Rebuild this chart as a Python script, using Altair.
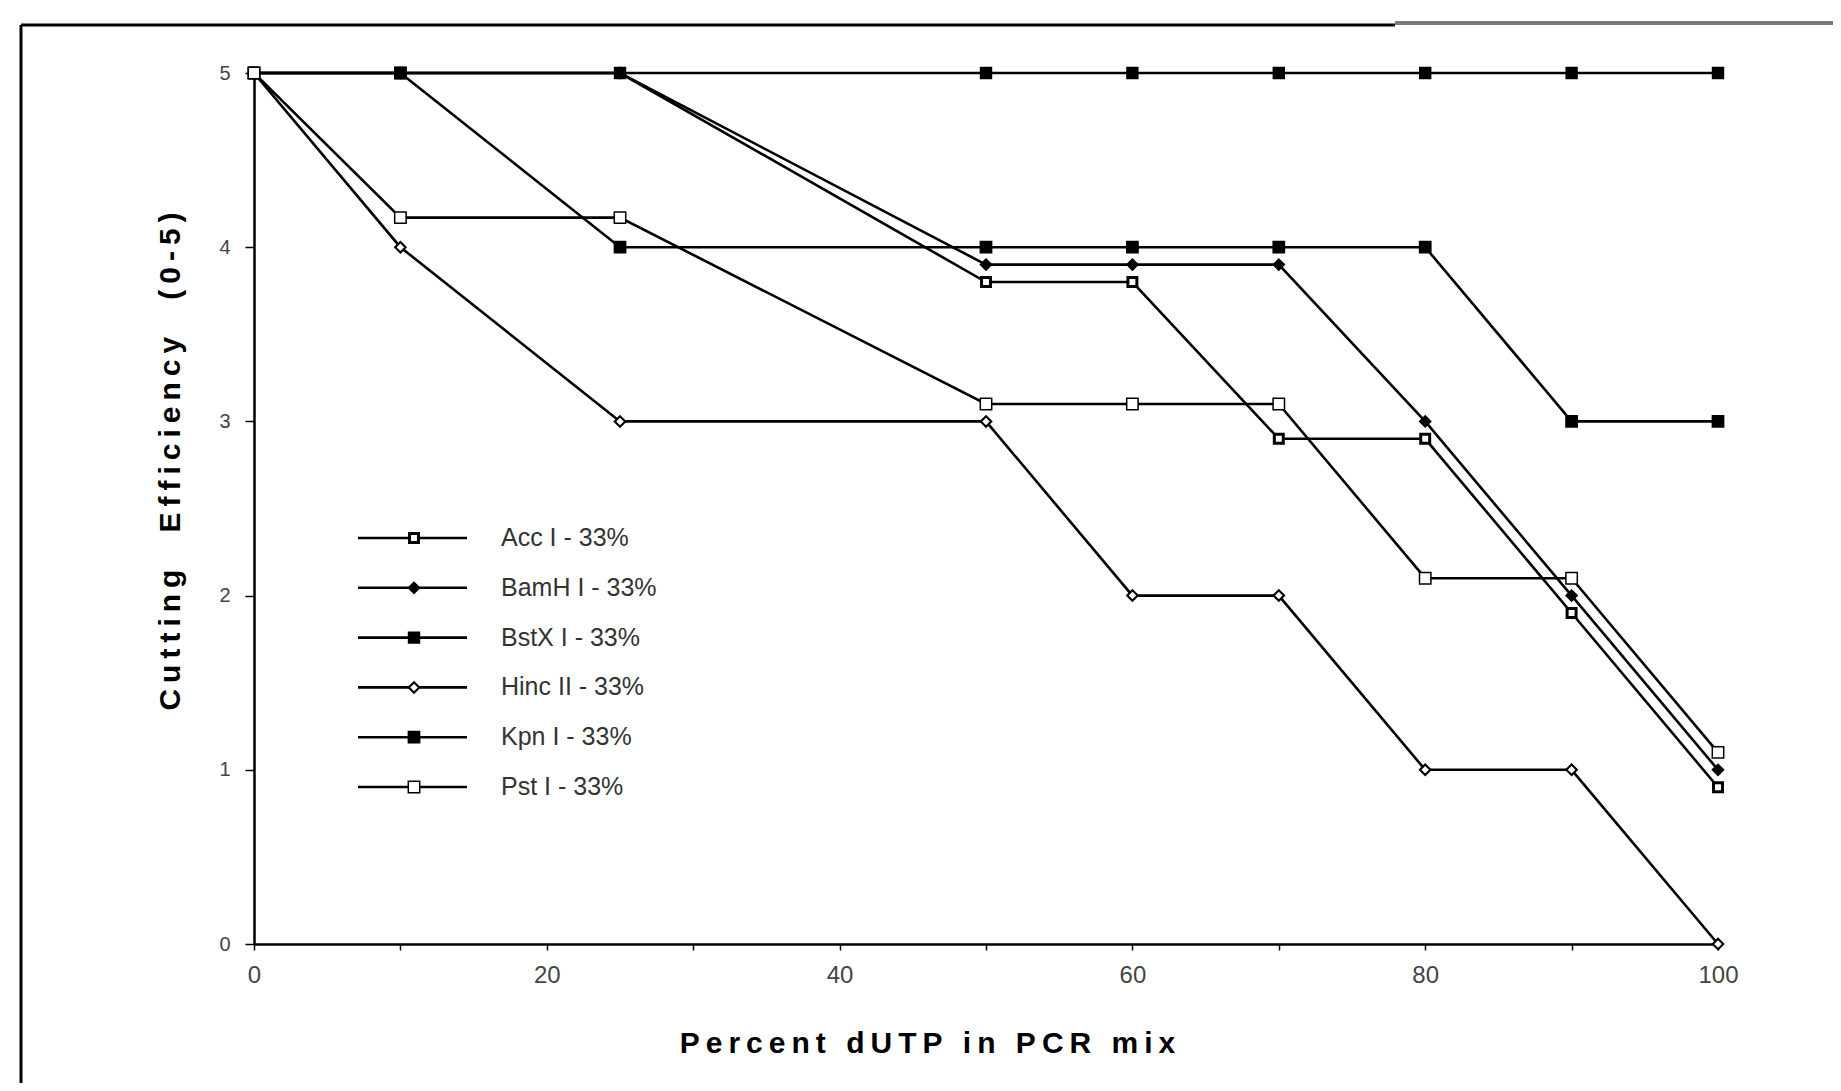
import altair as alt
import pandas as pd

# ---- data ----
x_pct = [0, 10, 25, 50, 60, 70, 80, 90, 100]
names = ["Acc I - 33%", "BamH I - 33%", "BstX I - 33%", "Hinc II - 33%", "Kpn I - 33%", "Pst I - 33%"]
acc_i = [5, 5, 5, 3.8, 3.8, 2.9, 2.9, 1.9, 0.9]
bamh_i = [5, 5, 5, 3.9, 3.9, 3.9, 3.0, 2.0, 1.0]
bstx_i = [5, 5, 5, 5, 5, 5, 5, 5, 5]
hinc_ii = [5, 4, 3, 3, 2, 2, 1, 1, 0]
kpn_i = [5, 5, 4, 4, 4, 4, 4, 3, 3]
pst_i = [5, 4.17, 4.17, 3.1, 3.1, 3.1, 2.1, 2.1, 1.1]

x_ticks = [0, 10, 20, 30, 40, 50, 60, 70, 80, 90, 100]
y_ticks = [0, 1, 2, 3, 4, 5]

x_title_words = ["Percent", "dUTP", "in", "PCR", "mix"]
y_title_words = ["Cutting", "Efficiency", "(0-5)"]

# marker styles per series
marker_shapes = ["square", "diamond", "square", "diamond", "square", "square"]
marker_fills = ["white", "black", "black", "white", "black", "white"]
marker_sizes = [80, 130, 110, 130, 160, 160]
marker_strokes = [3.0, 1.5, 1.5, 2.0, 1.5, 2.0]

series_values = [acc_i, bamh_i, bstx_i, hinc_ii, kpn_i, pst_i]
rows = []
for name, vals in zip(names, series_values):
    for xv, yv in zip(x_pct, vals):
        rows.append({"series": name, "pct": xv, "eff": yv})
df = pd.DataFrame(rows)
legend_df = pd.DataFrame({"series": names})

FONT = "Liberation Sans"
NARROW = "Liberation Sans Narrow, Liberation Sans"
THIN = "\u2009"
NBSP = "\u00a0"


def spaced(words, gap):
    # letter-spaced title, as in the original print
    return (THIN + gap + THIN).join(THIN.join(w) for w in words)


shape_scale = alt.Scale(domain=names, range=marker_shapes)
fill_scale = alt.Scale(domain=names, range=marker_fills)
size_scale = alt.Scale(domain=names, range=marker_sizes)
sw_scale = alt.Scale(domain=names, range=marker_strokes)

x_enc = alt.X(
    "pct:Q",
    scale=alt.Scale(domain=[0, 100], nice=False),
    axis=alt.Axis(
        values=x_ticks,
        labelExpr="datum.value % 20 === 0 ? datum.label : ''",
        labelFlush=False, labelOverlap=False,
        title=spaced(x_title_words, " "),
        titleFont=FONT, titleFontSize=30, titleFontWeight="bold", titleColor="black",
        titleX=673, titleY=99, titleAlign="center", titleBaseline="middle",
        labelFont=NARROW, labelFontSize=24, labelColor="#444", labelPadding=13,
        tickSize=6, tickColor="black", tickWidth=1.5,
        domainColor="black", domainWidth=2.5, grid=False,
    ),
)
y_enc = alt.Y(
    "eff:Q",
    scale=alt.Scale(domain=[0, 5], nice=False),
    axis=alt.Axis(
        values=y_ticks,
        labelFlush=False, labelOverlap=False,
        title=spaced(y_title_words, " " + NBSP + NBSP),
        titleFont=FONT, titleFontSize=30, titleFontWeight="bold", titleColor="black",
        titleX=-84, titleY=388, titleAlign="center", titleBaseline="middle", titleAngle=270,
        labelFont=FONT, labelFontSize=20, labelColor="#444", labelPadding=15,
        tickSize=9, tickColor="black", tickWidth=1.5,
        domainColor="black", domainWidth=2.5, grid=False,
    ),
)

lines = alt.Chart(df).mark_line(color="black", strokeWidth=2.6).encode(
    x=x_enc, y=y_enc, detail="series:N", order="pct:Q"
)

y_pts = alt.Y("eff:Q", scale=alt.Scale(domain=[0, 5], nice=False), axis=None)
points = alt.Chart(df).mark_point(filled=True, stroke="black", opacity=1).encode(
    x=alt.X("pct:Q", scale=alt.Scale(domain=[0, 100], nice=False)),
    y=y_pts,
    shape=alt.Shape("series:N", scale=shape_scale, legend=None),
    fill=alt.Fill("series:N", scale=fill_scale, legend=None),
    size=alt.Size("series:N", scale=size_scale, legend=None),
    strokeWidth=alt.StrokeWidth("series:N", scale=sw_scale, legend=None),
)

# ---- legend drawn inside the plot ----
ly = alt.Y("series:N", scale=alt.Scale(type="point", domain=names, range=[465, 714], padding=0), axis=None)
leg_rule = alt.Chart(legend_df).mark_rule(color="black", strokeWidth=2.6).encode(
    x=alt.value(104), x2=alt.value(213), y=ly
)
leg_pts = alt.Chart(legend_df).mark_point(filled=True, stroke="black", opacity=1).encode(
    x=alt.value(160), y=ly,
    shape=alt.Shape("series:N", scale=shape_scale, legend=None),
    fill=alt.Fill("series:N", scale=fill_scale, legend=None),
    size=alt.Size("series:N", scale=size_scale, legend=None),
    strokeWidth=alt.StrokeWidth("series:N", scale=sw_scale, legend=None),
)
leg_text = alt.Chart(legend_df).mark_text(
    align="left", baseline="middle", font=FONT, fontSize=25, color="#333"
).encode(x=alt.value(247), y=ly, text="series:N")

# ---- figure frame ----
one = alt.Data(values=[{"k": 1}])
frame_top = alt.Chart(one).mark_rule(color="black", strokeWidth=3).encode(
    x=alt.value(-233), x2=alt.value(1141), y=alt.value(-48)
)
frame_top_gray = alt.Chart(one).mark_rule(color="#7a7a7a", strokeWidth=4).encode(
    x=alt.value(1141), x2=alt.value(1600), y=alt.value(-50)
)
frame_left = alt.Chart(one).mark_rule(color="black", strokeWidth=3).encode(
    x=alt.value(-233), y=alt.value(-48), y2=alt.value(1030)
)

chart = alt.layer(
    frame_top, frame_top_gray, frame_left, lines, points, leg_rule, leg_pts, leg_text
).resolve_scale(y="independent").properties(
    width=1464, height=871,
    autosize=alt.AutoSizeParams(type="none"),
    padding={"left": 246, "top": 65, "right": 115, "bottom": 139},
    background="white",
).configure_view(stroke=None)

chart.save("out.html", embed_options={"renderer": "svg", "actions": False})
